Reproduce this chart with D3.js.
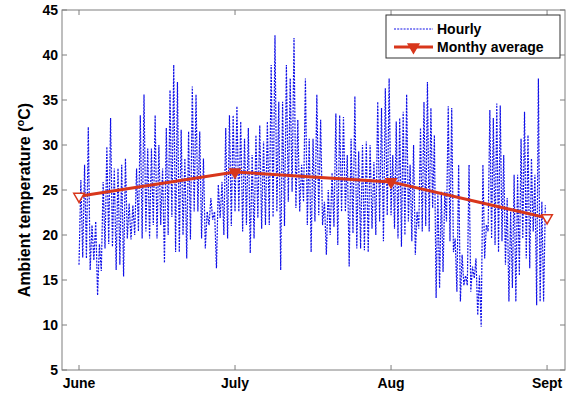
<!DOCTYPE html>
<html>
<head>
<meta charset="utf-8">
<script src="https://cdn.jsdelivr.net/npm/d3@7"></script>
<style>
	body { margin: 0; background: #fff; }
	text { font-family: "Liberation Sans", Arial, sans-serif; font-weight: bold; }
</style>
</head>
<body>
<svg id="chart" width="568" height="397"></svg>
<script>
// month ticks (x is measured in months from June 1)
var monthNames = ["June", "July", "Aug", "Sept"];
var monthPos = [0, 1, 2, 3];
var monthlyAvg = [24.3, 27.0, 25.9, 21.9];
var yTicks = [5, 10, 15, 20, 25, 30, 35, 40, 45];

// hourly record, read as daily high / low per cycle
var juneHigh = [26.1, 27.8, 32.0, 21.1, 21.5, 19.0, 25.9, 29.8, 33.0, 27.4, 27.4, 27.8, 28.5, 23.5,
	23.3, 27.4, 33.3, 35.6, 29.6, 29.6, 33.3, 30.0, 27.4, 31.9, 36.1, 38.9, 37.0, 31.7, 28.5, 31.5,
	36.5, 35.6, 31.5, 28.5, 22.6, 24.1, 22.6, 25.6, 25.9, 31.9, 33.3, 33.3];
var juneLow = [16.7, 17.5, 17.4, 16.1, 17.2, 13.3, 16.0, 18.5, 19.0, 18.7, 16.1, 16.7, 15.4, 19.6,
	19.5, 20.0, 20.4, 19.6, 20.4, 19.6, 21.1, 19.6, 21.1, 16.9, 20.0, 22.0, 18.1, 18.1, 20.0, 17.4,
	19.5, 22.6, 22.6, 19.6, 18.5, 21.1, 21.7, 16.3, 21.9, 20.0, 19.6, 21.0];
var julyHigh = [34.3, 32.6, 30.7, 31.9, 28.9, 31.1, 32.2, 30.4, 32.6, 38.9, 42.2, 34.8, 34.8, 38.9,
	37.4, 41.9, 32.8, 27.8, 37.4, 30.7, 30.7, 35.6, 32.8, 23.7, 25.0, 26.9, 33.5, 33.3, 33.1, 28.9,
	30.7, 35.4, 29.3, 30.0, 30.4, 30.0, 28.1, 34.8, 34.1, 36.3, 37.4];
var julyLow = [22.6, 22.6, 20.4, 21.1, 18.0, 19.6, 21.9, 20.7, 21.1, 21.1, 22.0, 22.6, 16.1, 21.0,
	23.7, 24.8, 23.0, 22.6, 23.7, 21.1, 18.1, 21.5, 22.2, 21.1, 17.8, 20.0, 20.9, 18.9, 22.6, 22.6,
	16.5, 20.2, 18.5, 18.5, 18.3, 18.1, 20.7, 20.0, 21.5, 19.3, 22.2];
var augHigh = [28.9, 32.6, 33.0, 33.7, 35.6, 27.8, 30.0, 22.6, 31.9, 34.8, 37.0, 34.1, 31.1, 24.8,
	24.8, 24.8, 34.3, 34.1, 19.6, 27.8, 17.8, 15.5, 27.8, 16.5, 17.4, 15.5, 27.8, 21.1, 33.9, 33.0,
	34.6, 34.4, 28.9, 24.1, 22.6, 26.7, 26.7, 30.7, 33.7, 31.1, 28.5, 26.7, 37.4, 23.7, 23.3];
var augLow = [22.2, 20.7, 19.6, 18.7, 20.0, 21.5, 19.3, 17.8, 20.7, 20.4, 21.0, 20.4, 23.0, 13.0,
	14.1, 15.9, 21.5, 19.3, 18.1, 13.7, 12.6, 14.4, 14.4, 13.7, 15.2, 11.1, 9.8, 17.4, 20.4, 19.6,
	18.9, 18.1, 19.3, 16.7, 12.6, 14.1, 12.6, 15.5, 19.6, 17.4, 16.3, 20.4, 12.2, 12.6, 12.6];

var svg = d3.select("#chart");
var x = d3.scaleLinear().domain([-0.109, 3.115]).range([62, 565]);
var y = d3.scaleLinear().domain([5, 45]).range([370, 10]);
var axisCol = "#7f7f7f";
var blue = "#1010e8";
var red = "#d8361b";

/*
hourly points: a low then a high for each cycle, spread over its month
*/
var hourly = [];
[[juneHigh, juneLow], [julyHigh, julyLow], [augHigh, augLow]].forEach(function(m, k) {
	var n = m[0].length;
	m[0].forEach(function(h, i) {
		hourly.push({t: k + i / n, v: m[1][i]});
		hourly.push({t: k + (i + 0.5) / n, v: h});
	});
});

var line = d3.line()
	.x(function(d) { return x(d.t); })
	.y(function(d) { return y(d.v); });

svg.append("path").datum(hourly)
	.attr("d", line)
	.attr("fill", "none")
	.attr("stroke", blue)
	.attr("stroke-width", 1.2)
	.attr("stroke-dasharray", "2,1.2");

// monthly average
var avg = monthlyAvg.map(function(v, i) { return {t: monthPos[i], v: v}; });
svg.append("path").datum(avg)
	.attr("d", line)
	.attr("fill", "none")
	.attr("stroke", red)
	.attr("stroke-width", 3);

var tri = d3.symbol().type(d3.symbolTriangle).size(48);
svg.selectAll("path.mark").data(avg).enter().append("path")
	.attr("class", "mark")
	.attr("d", tri)
	.attr("transform", function(d) { return "translate(" + x(d.t) + "," + y(d.v) + ") rotate(180)"; })
	.attr("fill", function(d, i) { return (i == 0 || i == avg.length - 1) ? "#fff" : red; })
	.attr("stroke", red)
	.attr("stroke-width", 1.5);

/*
axes box with inward ticks on all sides
*/
var g = svg.append("g");
var x0 = x.range()[0], x1 = x.range()[1], y0 = y.range()[0], y1 = y.range()[1];
g.append("rect")
	.attr("x", x0).attr("y", y1)
	.attr("width", x1 - x0).attr("height", y0 - y1)
	.attr("fill", "none").attr("stroke", axisCol).attr("stroke-width", 1);

var tl = 5;
yTicks.forEach(function(v) {
	g.append("line").attr("x1", x0).attr("x2", x0 + tl)
		.attr("y1", y(v)).attr("y2", y(v)).attr("stroke", axisCol);
	g.append("line").attr("x1", x1).attr("x2", x1 - tl)
		.attr("y1", y(v)).attr("y2", y(v)).attr("stroke", axisCol);
	g.append("text").attr("x", x0 - 4).attr("y", y(v)).attr("dy", "0.36em")
		.attr("text-anchor", "end").attr("font-size", 14).text(v);
});
monthPos.forEach(function(t, i) {
	g.append("line").attr("x1", x(t)).attr("x2", x(t))
		.attr("y1", y0).attr("y2", y0 - tl).attr("stroke", axisCol);
	g.append("line").attr("x1", x(t)).attr("x2", x(t))
		.attr("y1", y1).attr("y2", y1 + tl).attr("stroke", axisCol);
	g.append("text").attr("x", x(t)).attr("y", 388)
		.attr("text-anchor", "middle").attr("font-size", 14).text(monthNames[i]);
});

var yt = svg.append("text")
	.attr("transform", "translate(30,200) rotate(-90)")
	.attr("text-anchor", "middle").attr("font-size", 16);
yt.append("tspan").text("Ambient temperature (");
yt.append("tspan").attr("dy", -6).attr("font-size", 11).text("o");
yt.append("tspan").attr("dy", 6).text("C)");

/*
legend
*/
var lg = svg.append("g");
lg.append("rect").attr("x", 386).attr("y", 15).attr("width", 174).attr("height", 43)
	.attr("fill", "#fff").attr("stroke", "#333").attr("stroke-width", 1);
lg.append("line").attr("x1", 394).attr("x2", 433).attr("y1", 29).attr("y2", 29)
	.attr("stroke", blue).attr("stroke-dasharray", "2,1.2");
lg.append("line").attr("x1", 394).attr("x2", 433).attr("y1", 47).attr("y2", 47)
	.attr("stroke", red).attr("stroke-width", 3);
lg.append("path").attr("d", tri)
	.attr("transform", "translate(413.5,47) rotate(180)")
	.attr("fill", red).attr("stroke", red).attr("stroke-width", 1.5);
lg.append("text").attr("x", 437).attr("y", 34).attr("font-size", 14).text("Hourly");
lg.append("text").attr("x", 437).attr("y", 52).attr("font-size", 14).text("Monthy average");
</script>
</body>
</html>
